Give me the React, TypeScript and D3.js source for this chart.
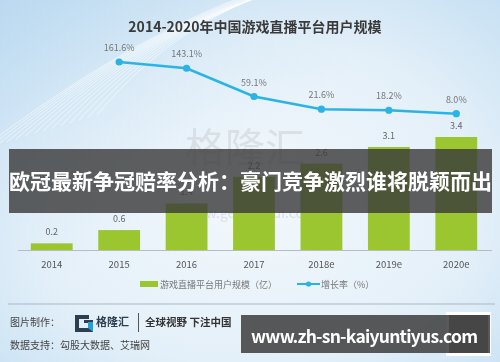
import React from 'react';
import * as d3 from 'd3';

const years = ['2014', '2015', '2016', '2017', '2018e', '2019e', '2020e'];
const users = [0.2, 0.6, 1.4, 2.2, 2.6, 3.1, 3.4];
const growthYears = ['2015', '2016', '2017', '2018e', '2019e', '2020e'];
const growth = [161.6, 143.1, 59.1, 21.6, 18.2, 8.0];

const W = 500;
const H = 362;
const FONT = '"Noto Sans CJK SC", "Noto Sans", sans-serif';

const App = () => {
	const x = d3.scaleBand().domain(years).range([18, 490]).paddingInner(0.38).paddingOuter(0.19);
	const y = d3.scaleLinear().domain([0, 3.4]).range([250, 137]);
	const g = d3.scaleLinear().domain([0, 161.6]).range([116.4, 62]);
	const cx = d => x(d) + x.bandwidth() / 2;

	const line = d3
		.line()
		.x((d, i) => cx(growthYears[i]))
		.y(d => g(d));

	const streaks = d3.range(14).map(i => {
		const o = i * 9;
		return `M${-20 + o},${150 - o * 0.3} C${60 + o},${90 - o * 0.6} ${150 + o},${30 - o * 0.4} ${260 + o},${-10 - o * 0.2}`;
	});

	return (
		<svg width={W} height={H} style={{ position: 'fixed', left: 0, top: 0, fontFamily: FONT }}>
			<defs>
				<radialGradient id="bg" cx="0.5" cy="0.55" r="0.75">
					<stop offset="0" stopColor="#f3f8fc" />
					<stop offset="0.6" stopColor="#e4f0f9" />
					<stop offset="1" stopColor="#c6e0f3" />
				</radialGradient>
				<linearGradient id="tl" x1="0" y1="0" x2="1" y2="1">
					<stop offset="0" stopColor="#b9d8f0" stopOpacity="0.9" />
					<stop offset="0.45" stopColor="#d6e9f6" stopOpacity="0" />
				</linearGradient>
			</defs>
			<rect width={W} height={H} fill="url(#bg)" />
			<rect width={W} height={H} fill="url(#tl)" />
			<g fill="none" stroke="#ffffff" strokeOpacity={0.55} strokeWidth={1}>
				{streaks.map((d, i) => (
					<path key={i} d={d} />
				))}
			</g>

			{/* watermark */}
			<text x={245} y={162} textAnchor="middle" fontSize={40} fill="#b8bcc0" fillOpacity={0.35}>
				格隆汇
			</text>
			<text x={250} y={218} textAnchor="middle" fontSize={14} fill="#b8bcc0" fillOpacity={0.4}>
				www.gelonghui.com
			</text>

			<text x={255} y={32} textAnchor="middle" fontSize={14} fontWeight="bold" fill="#3a3a3a">
				2014-2020年中国游戏直播平台用户规模
			</text>

			{/* bars */}
			{users.map((v, i) => (
				<g key={years[i]}>
					<rect x={x(years[i])} y={y(v)} width={x.bandwidth()} height={y(0) - y(v)} fill="#9cc62f" />
					<text x={cx(years[i])} y={y(v) - 8} textAnchor="middle" fontSize={9} fill="#666">
						{v.toFixed(1)}
					</text>
					<text x={cx(years[i])} y={268} textAnchor="middle" fontSize={9.5} fill="#555">
						{years[i]}
					</text>
				</g>
			))}
			<line x1={18} x2={492} y1={y(0) + 0.5} y2={y(0) + 0.5} stroke="#b5bcc4" />

			{/* growth line */}
			<path d={line(growth)} fill="none" stroke="#2ab4e6" strokeWidth={2.5} />
			{growth.map((v, i) => (
				<g key={growthYears[i]}>
					<circle cx={cx(growthYears[i])} cy={g(v)} r={3.6} fill="#2ab4e6" />
					<text x={cx(growthYears[i])} y={g(v) - 11} textAnchor="middle" fontSize={9} fill="#777">
						{v.toFixed(1)}%
					</text>
				</g>
			))}

			{/* legend */}
			<rect x={140} y={281} width={18} height={6} fill="#9cc62f" />
			<text x={160} y={287.5} fontSize={9} fill="#777">
				游戏直播平台用户规模（亿）
			</text>
			<line x1={297} x2={320} y1={284} y2={284} stroke="#2ab4e6" strokeWidth={2} />
			<circle cx={308.5} cy={284} r={2.6} fill="#2ab4e6" />
			<text x={321} y={287.5} fontSize={9} fill="#777">
				增长率（%）
			</text>

			<line x1={8} x2={495} y1={304} y2={304} stroke="#a9b7c6" strokeWidth={1} />

			{/* footer */}
			<text x={10} y={326} fontSize={10} fill="#444">
				图片制作：
			</text>
			<path d="M75,315 h14 v4 h-10 v9 h10 v-5 h-5 v-3 h9 v12 h-18 z" fill="#2c3e50" />
			<path d="M88,322 l5,0 l0,10 l-5,-4 z" fill="#1fa0d8" />
			<text x={96} y={326} fontSize={11} fontWeight="bold" fill="#2c3e50">
				格隆汇
			</text>
			<line x1={138.5} x2={138.5} y1={313} y2={332} stroke="#555" />
			<text x={145} y={326} fontSize={10.5} fontWeight="bold" fill="#333">
				全球视野 下注中国
			</text>
			<text x={10} y={349} fontSize={10} fill="#444">
				数据支持：勾股大数据、艾瑞网
			</text>

			{/* QR block */}
			<rect x={446} y={312} width={45} height={44} fill="#fff" />
			<rect x={449} y={315} width={39} height={38} fill="#555" fillOpacity={0.75} />

			{/* overlay banners */}
			<rect x={9} y={149} width={483} height={64} fill="#3c3c3c" fillOpacity={0.82} />
			<text x={250.5} y={188.5} textAnchor="middle" fontSize={21} fontWeight="bold" fill="#fff">
				欧冠最新争冠赔率分析：豪门竞争激烈谁将脱颖而出
			</text>
			<rect x={241} y={315} width={249} height={38} fill="#3c3c3c" fillOpacity={0.85} />
			<text x={251} y={343} fontSize={17.5} fontWeight="bold" fill="#fff" textLength={227}>
				www.zh-sn-kaiyuntiyus.com
			</text>
		</svg>
	);
};

export default App;
